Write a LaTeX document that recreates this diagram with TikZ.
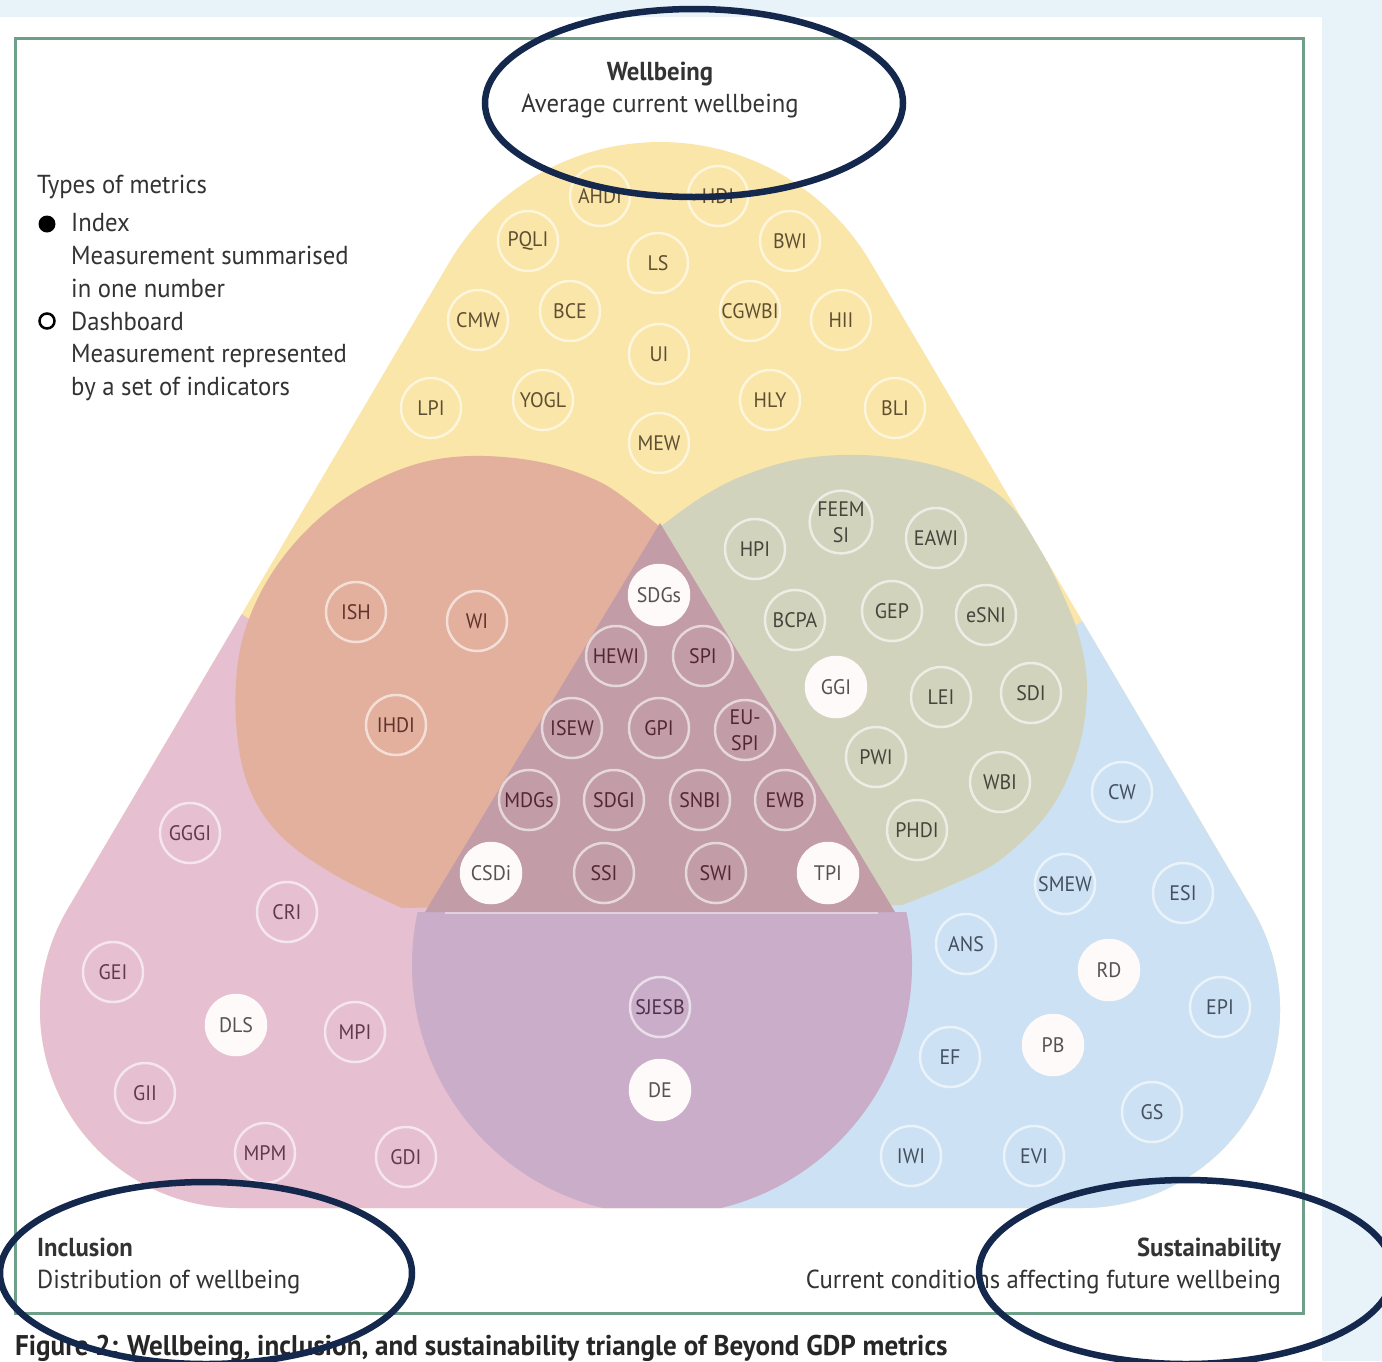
\documentclass[tikz,border=0pt]{standalone}
\usepackage{fontspec}
\setmainfont[FakeStretch=0.95]{PT Sans}
\definecolor{bgblue}{HTML}{E8F2F9}
\definecolor{framec}{HTML}{6E9F88}
\definecolor{navy}{HTML}{14284E}
\definecolor{yel}{HTML}{FAE6A8}
\definecolor{pnk}{HTML}{E6BFD1}
\definecolor{blu}{HTML}{CCE1F3}
\definecolor{org}{HTML}{E2B09D}
\definecolor{grn}{HTML}{D1D3BD}
\definecolor{pur}{HTML}{C9ADC9}
\definecolor{mau}{HTML}{C29CA6}
\definecolor{ytext}{HTML}{5E4F33}
\definecolor{otext}{HTML}{62322C}
\definecolor{gtext}{HTML}{43463B}
\definecolor{mtext}{HTML}{522636}
\definecolor{ptext}{HTML}{613A4E}
\definecolor{btext}{HTML}{44505F}
\definecolor{putext}{HTML}{50324B}
\definecolor{wtext}{HTML}{555155}
\definecolor{legc}{HTML}{333333}
\newcommand\metfont{\fontsize{21}{26}\selectfont}
\newcommand\legfont{\fontsize{26}{30}\selectfont}
\newcommand\capfont{\fontsize{28.5}{30}\selectfont\bfseries}
\newcommand\outerpath{(449.2,-262.5) arc[start angle=149.5, end angle=30.5, radius=244.6] -- (1252.6,-909.5) arc[start angle=30.5, end angle=-90, radius=198] -- (238,-1208) arc[start angle=270, end angle=149.5, radius=198] -- cycle}
\tikzset{
  met/.style={circle, minimum size=60pt, inner sep=0pt, draw=white, draw opacity=0.6, line width=2.5pt, font=\metfont, align=center},
  wf/.style={fill=white!92!pink, draw=white!92!pink, draw opacity=1, text=wtext},
  yl/.style={text=ytext},
  ol/.style={text=otext},
  gl/.style={text=gtext},
  ml/.style={text=mtext},
  pl/.style={text=ptext},
  bl/.style={text=btext},
  ul/.style={text=putext},
  legtext/.style={font=\legfont, text=legc, inner sep=0pt, anchor=base west},
  annot/.style={draw=navy, line width=6.5pt}
}
\begin{document}
\begin{tikzpicture}[x=1pt,y=1pt]
\useasboundingbox (0,0) rectangle (1382,-1361);
% page background
\fill[bgblue] (0,0) rectangle (1382,-1361);
\fill[white] (0,-17) rectangle (1322,-1361);
\draw[framec, line width=3pt] (15,-38) rectangle (1303,-1313);
% regions
\fill[yel] \outerpath;
\begin{scope}
  \clip \outerpath;
  \fill[pnk] (-10,-450) -- (243,-615) -- (660,-892) -- (660,-1400) -- (-10,-1400) -- cycle;
  \fill[blu] (1330,-450) -- (1081,-622) -- (660,-892) -- (660,-1400) -- (1330,-1400) -- cycle;
  \fill[org] (660,-527) -- plot[smooth, tension=0.6] coordinates {(640,-510) (600,-482) (540,-462) (470,-456) (410,-466) (350,-495) (300,-537) (262,-590) (240,-650) (236,-720) (248,-785) (280,-835) (335,-875) (402,-908)} -- (560,-905) -- cycle;
  \fill[grn] (660,-527) -- plot[smooth, tension=0.6] coordinates {(672,-518) (705,-495) (745,-475) (800,-459) (860,-455) (920,-462) (970,-478) (1008,-503) (1038,-545) (1063,-595) (1080,-640) (1087,-690) (1078,-750) (1050,-810) (1000,-860) (949,-886) (902,-905)} -- (800,-905) -- cycle;
  \clip (0,-912) rectangle (1382,-1400);
  \fill[pur] (662,-965) circle[radius=250];
\end{scope}
\fill[mau] (660,-523) -- (425,-912) -- (895,-912) -- cycle;
\draw[white, opacity=0.45, line width=1.5pt] (445,-913) -- (878,-913);
% titles
\node[font=\legfont\bfseries, text=legc, inner sep=0pt, anchor=base] (wbt) at (660,-80) {Wellbeing};
\node[font=\legfont, text=legc, inner sep=0pt, anchor=base] (wbs) at (660,-112) {Average current wellbeing};
\node[legtext] (tom) at (37,-193) {Types of metrics};
\node[circle, fill=black, minimum size=17pt, inner sep=0pt] (idxm) at (47,-224) {};
\node[legtext] (idx) at (71,-231) {Index};
\node[legtext] (idx1) at (71,-264) {Measurement summarised};
\node[legtext] (idx2) at (71,-297) {in one number};
\node[circle, draw=black, line width=2.5pt, minimum size=15pt, inner sep=0pt] (dbm) at (47,-321) {};
\node[legtext] (db) at (71,-330) {Dashboard};
\node[legtext] (db1) at (71,-362) {Measurement represented};
\node[legtext] (db2) at (71,-395) {by a set of indicators};
\node[font=\legfont\bfseries, text=legc, inner sep=0pt, anchor=base west] (inct) at (37,-1256) {Inclusion};
\node[legtext] (incs) at (37,-1288) {Distribution of wellbeing};
\node[font=\legfont\bfseries, text=legc, inner sep=0pt, anchor=base east] (sust) at (1281,-1256) {Sustainability};
\node[font=\legfont, text=legc, inner sep=0pt, anchor=base east] (suss) at (1281,-1288) {Current conditions affecting future wellbeing};
\node[font=\capfont, text=black!85, inner sep=0pt, anchor=base west] (cap) at (15,-1355) {Figure 2: Wellbeing, inclusion, and sustainability triangle of Beyond GDP metrics};
% wellbeing metrics
\node[met, yl] (ahdi) at (600,-196) {AHDI};
\node[met, yl] (hdi) at (718,-196) {HDI};
\node[met, yl] (pqli) at (528,-241) {PQLI};
\node[met, yl] (bwi) at (790,-241) {BWI};
\node[met, yl] (ls) at (658,-263) {LS};
\node[met, yl] (cmw) at (478,-320) {CMW};
\node[met, yl] (bce) at (570,-311) {BCE};
\node[met, yl] (cgwbi) at (750,-311) {CGWBI};
\node[met, yl] (hii) at (841,-320) {HII};
\node[met, yl] (ui) at (659,-354) {UI};
\node[met, yl] (lpi) at (431,-408) {LPI};
\node[met, yl] (yogl) at (543,-400) {YOGL};
\node[met, yl] (hly) at (770,-400) {HLY};
\node[met, yl] (bli) at (895,-408) {BLI};
\node[met, yl] (mew) at (659,-443) {MEW};
% wellbeing & inclusion
\node[met, ol] (ish) at (356,-612) {ISH};
\node[met, ol] (wi) at (477,-621) {WI};
\node[met, ol] (ihdi) at (396,-725) {IHDI};
% all three
\node[met, wf] (sdgs) at (659,-595) {SDGs};
\node[met, ml] (hewi) at (616,-656) {HEWI};
\node[met, ml] (spi) at (703,-656) {SPI};
\node[met, ml] (isew) at (572,-728) {ISEW};
\node[met, ml] (gpi) at (659,-728) {GPI};
\node[met, ml] (euspi) at (745,-730) {EU-\\SPI};
\node[met, ml] (mdgs) at (529,-800) {MDGs};
\node[met, ml] (sdgi) at (614,-800) {SDGI};
\node[met, ml] (snbi) at (700,-800) {SNBI};
\node[met, ml] (ewb) at (785,-800) {EWB};
\node[met, wf] (csdi) at (491,-873) {CSDi};
\node[met, ml] (ssi) at (604,-873) {SSI};
\node[met, ml] (swi) at (716,-873) {SWI};
\node[met, wf] (tpi) at (828,-873) {TPI};
% wellbeing & sustainability
\node[met, gl] (hpi) at (755,-549) {HPI};
\node[met, gl] (feem) at (841,-522) {FEEM\\SI};
\node[met, gl] (eawi) at (936,-538) {EAWI};
\node[met, gl] (bcpa) at (795,-620) {BCPA};
\node[met, gl] (gep) at (892,-611) {GEP};
\node[met, gl] (esni) at (986,-615) {eSNI};
\node[met, wf] (ggi) at (836,-687) {GGI};
\node[met, gl] (lei) at (941,-697) {LEI};
\node[met, gl] (sdi) at (1031,-693) {SDI};
\node[met, gl] (pwi) at (876,-757) {PWI};
\node[met, gl] (wbi) at (1000,-782) {WBI};
\node[met, gl] (phdi) at (917,-830) {PHDI};
% sustainability
\node[met, bl] (cw) at (1122,-792) {CW};
\node[met, bl] (smew) at (1065,-884) {SMEW};
\node[met, bl] (esi) at (1183,-893) {ESI};
\node[met, bl] (ans) at (966,-944) {ANS};
\node[met, wf] (rd) at (1109,-970) {RD};
\node[met, bl] (epi) at (1220,-1007) {EPI};
\node[met, bl] (ef) at (950,-1057) {EF};
\node[met, wf] (pb) at (1053,-1045) {PB};
\node[met, bl] (gs) at (1152,-1112) {GS};
\node[met, bl] (iwi) at (911,-1156) {IWI};
\node[met, bl] (evi) at (1034,-1156) {EVI};
% inclusion
\node[met, pl] (gggi) at (190,-833) {GGGI};
\node[met, pl] (cri) at (287,-912) {CRI};
\node[met, pl] (gei) at (113,-972) {GEI};
\node[met, wf] (dls) at (236,-1025) {DLS};
\node[met, pl] (mpi) at (355,-1032) {MPI};
\node[met, pl] (gii) at (145,-1093) {GII};
\node[met, pl] (mpm) at (265,-1153) {MPM};
\node[met, pl] (gdi) at (406,-1157) {GDI};
% inclusion & sustainability
\node[met, ul] (sjesb) at (660,-1007) {SJESB};
\node[met, wf] (de) at (660,-1090) {DE};
% annotation ellipses
\draw[annot] (694,-103) ellipse[x radius=209, y radius=94];
\draw[annot] (206,-1273) ellipse[x radius=206, y radius=91];
\draw[annot] (1186,-1272) ellipse[x radius=207, y radius=92];
\end{tikzpicture}
\end{document}
